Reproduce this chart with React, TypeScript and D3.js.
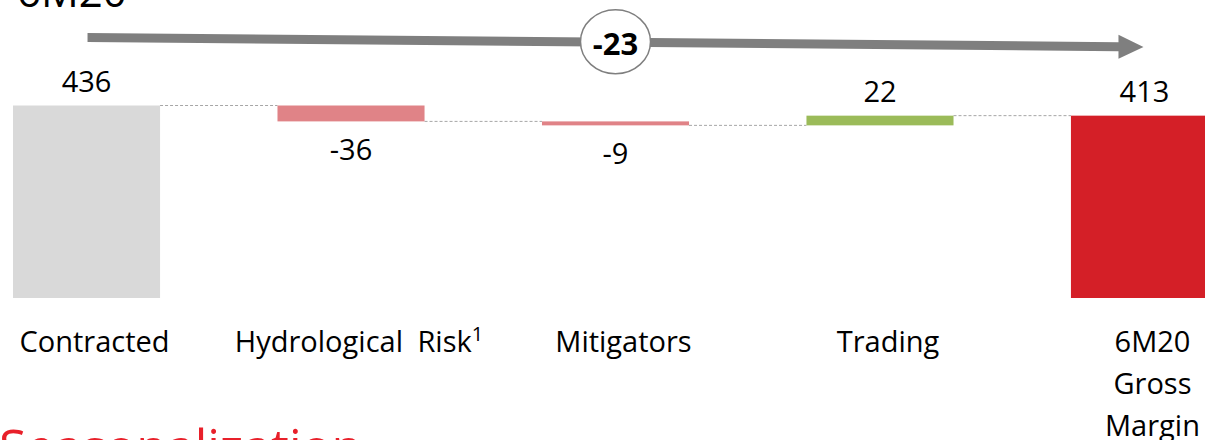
import React from "react";
import * as d3 from "d3";

const categories = ["Contracted", "Hydrological Risk", "Mitigators", "Trading", "6M20 Gross Margin"];
const categoryLines = [["Contracted"], ["Hydrological\u2002Risk"], ["Mitigators"], ["Trading"], ["6M20", "Gross", "Margin"]];
const values = [436, -36, -9, 22, 413];
const kinds = ["start", "delta", "delta", "delta", "end"];
const superscripts = ["", "1", "", "", ""];
const totalChange = -23;
const headerText = "6M20";
const footerText = "Seasonalization";

const W = 1205;
const H = 440;
const FONT = "'Open Sans', 'Noto Sans', sans-serif";

export default function App() {
  const x = d3.scaleBand<string>().domain(categories).range([13, 1218]).paddingInner(0.444).paddingOuter(0);
  const y = d3.scaleLinear().domain([0, 436]).range([298, 105.5]);

  let running = 0;
  const bars = categories.map((c, i) => {
    const v = values[i];
    let lo: number, hi: number;
    if (kinds[i] === "delta") {
      const start = running;
      running += v;
      lo = Math.min(start, running);
      hi = Math.max(start, running);
    } else {
      lo = 0;
      hi = v;
      running = v;
    }
    const color =
      kinds[i] === "start" ? "#d9d9d9" : kinds[i] === "end" ? "#d41f27" : v < 0 ? "#e08387" : "#9bbb59";
    return { c, i, v, lo, hi, end: running, color };
  });

  const bw = x.bandwidth();

  const ax0 = x(categories[0])! + bw / 2 + 1;
  const ax1 = x(categories[categories.length - 1])! + bw / 2 - 1;
  const ay0 = 37.5;
  const ay1 = 47;
  const headLen = 25;
  const half = 4.5;
  const headHalf = 12;
  const slope = (ay1 - ay0) / (ax1 - ax0);
  const bx = ax1 - headLen;
  const by = ay0 + slope * (bx - ax0);
  const arrowPath = [
    `M${ax0},${ay0 - half}`,
    `L${bx},${by - half}`,
    `L${bx},${by - headHalf}`,
    `L${ax1},${ay1}`,
    `L${bx},${by + headHalf}`,
    `L${bx},${by + half}`,
    `L${ax0},${ay0 + half}`,
    "Z",
  ].join(" ");
  const cx = x(categories[2])! + bw / 2;
  const cy = ay0 + slope * (cx - ax0) - 0.5;

  return (
    <svg width={W} height={H} style={{ position: "absolute", left: 0, top: 0 }} fontFamily={FONT}>
      <rect width={W} height={H} fill="#ffffff" />
      <text x={17} y={7} fontSize={42} fill="#000">{headerText}</text>
      <text x={-1} y={465} fontSize={50} fill="#e8202a">{footerText}</text>

      {bars.slice(0, -1).map((b) => {
        const next = categories[b.i + 1];
        return (
          <line
            key={"c" + b.i}
            x1={x(b.c)! + bw}
            x2={x(next)!}
            y1={y(b.end)}
            y2={y(b.end)}
            stroke="#a6a6a6"
            strokeWidth={1}
            strokeDasharray="3,2"
          />
        );
      })}

      {bars.map((b) => (
        <rect key={"b" + b.i} x={x(b.c)} y={y(b.hi)} width={bw} height={y(b.lo) - y(b.hi)} fill={b.color} />
      ))}

      {bars.map((b) => {
        const cxb = x(b.c)! + bw / 2;
        const neg = b.v < 0;
        return (
          <text
            key={"v" + b.i}
            x={cxb}
            y={neg ? y(b.lo) + 38.5 : y(b.hi) - 13.5}
            textAnchor="middle"
            fontSize={29}
            fill="#000"
          >
            {b.v}
          </text>
        );
      })}

      {categoryLines.map((lines, i) => (
        <text key={"l" + i} x={x(categories[i])! + bw / 2 + 8} y={352} textAnchor="middle" fontSize={29} fill="#000">
          {lines.map((ln, j) => (
            <tspan key={j} x={x(categories[i])! + bw / 2 + 8} dy={j === 0 ? 0 : 42}>
              {ln}
              {superscripts[i] && j === lines.length - 1 ? (
                <tspan fontSize={20} dy={-11}>{superscripts[i]}</tspan>
              ) : null}
            </tspan>
          ))}
        </text>
      ))}

      <path d={arrowPath} fill="#7f7f7f" />
      <ellipse cx={cx} cy={cy} rx={35} ry={32} fill="#fff" stroke="#7f7f7f" strokeWidth={1.5} />
      <text x={cx} y={cy + 13} textAnchor="middle" fontSize={31} fontWeight="bold" fill="#000">
        {totalChange}
      </text>
    </svg>
  );
}
